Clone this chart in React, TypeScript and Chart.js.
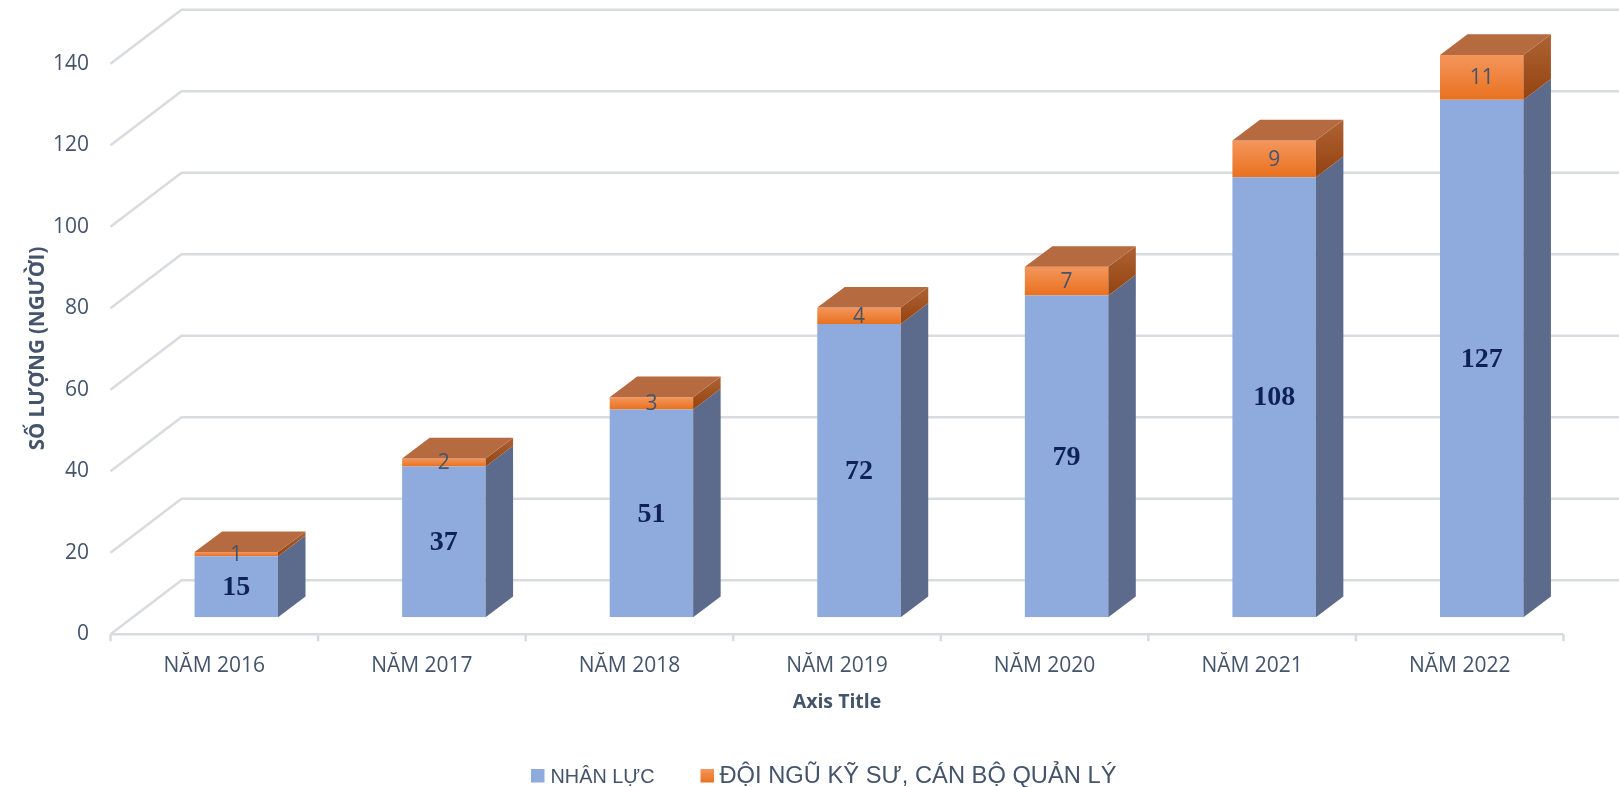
import React, { useEffect, useRef } from 'react';
import { Chart, registerables } from 'chart.js';

Chart.register(...registerables);

const categories = ['NĂM 2016', 'NĂM 2017', 'NĂM 2018', 'NĂM 2019', 'NĂM 2020', 'NĂM 2021', 'NĂM 2022'];
const nhanLuc = [15, 37, 51, 72, 79, 108, 127];
const doiNgu = [1, 2, 3, 4, 7, 9, 11];
const yTicks = [0, 20, 40, 60, 80, 100, 120, 140];
const seriesNames = ['NHÂN LỰC', 'ĐỘI NGŨ KỸ SƯ, CÁN BỘ QUẢN LÝ'];
const yTitle = 'SỐ LƯỢNG (NGƯỜI)';
const xTitle = 'Axis Title';

const W = 1619;
const H = 787;
const DEPTH = { dx: 27.5, dy: -20.7 };
const FRONT = { dx: -22, dy: 17 };
const BACK = { dx: 49, dy: -37 };
const TEXT = '#44546A';
const GRID = '#D9DBE0';

function orangeFront(c: any) {
  const chart = c.chart;
  const y = chart.scales && chart.scales.y;
  const i = c.dataIndex;
  if (!y || !chart.chartArea || i === undefined) return '#EE7E32';
  const top = y.getPixelForValue(nhanLuc[i] + doiNgu[i]);
  const bot = y.getPixelForValue(nhanLuc[i]);
  const g = chart.ctx.createLinearGradient(0, top, 0, bot);
  g.addColorStop(0, '#F4965C');
  g.addColorStop(1, '#E9711F');
  return g;
}

function fitText(ctx: CanvasRenderingContext2D, text: string, x: number, y: number, width: number) {
  const m = ctx.measureText(text).width;
  ctx.save();
  ctx.translate(x, y);
  ctx.scale(width / m, 1);
  ctx.fillText(text, 0, 0);
  ctx.restore();
}

const framePlugin = {
  id: 'frame3d',
  beforeDatasetsDraw(chart: any) {
    const { ctx, chartArea, scales } = chart;
    const x = scales.x;
    const y = scales.y;
    ctx.save();
    ctx.strokeStyle = GRID;
    ctx.lineWidth = 2.5;
    ctx.beginPath();
    for (const v of yTicks) {
      const py = y.getPixelForValue(v);
      ctx.moveTo(chartArea.left + FRONT.dx, py + FRONT.dy);
      ctx.lineTo(chartArea.left + BACK.dx, py + BACK.dy);
      ctx.lineTo(W, py + BACK.dy);
    }
    const fy = y.getPixelForValue(0) + FRONT.dy;
    ctx.moveTo(chartArea.left + FRONT.dx, fy);
    ctx.lineTo(chartArea.right + FRONT.dx, fy);
    const step = x.getPixelForValue(1) - x.getPixelForValue(0);
    for (let i = 0; i <= categories.length; i++) {
      const bx = x.getPixelForValue(0) - step / 2 + i * step + FRONT.dx;
      ctx.moveTo(bx, fy);
      ctx.lineTo(bx, fy + 7);
    }
    ctx.stroke();

    // tick labels
    ctx.fillStyle = TEXT;
    ctx.font = '21px "Open Sans"';
    ctx.textAlign = 'right';
    ctx.textBaseline = 'middle';
    for (const v of yTicks) {
      ctx.fillText(String(v), 89, y.getPixelForValue(v) + FRONT.dy);
    }
    // category labels
    ctx.textAlign = 'center';
    ctx.font = '21px "Open Sans"';
    categories.forEach((c, i) => {
      ctx.fillText(c, x.getPixelForValue(i) + FRONT.dx, fy + 32);
    });
    // axis titles
    ctx.font = 'bold 19.5px "Open Sans"';
    ctx.fillText(xTitle, 837, 702);
    ctx.save();
    ctx.translate(38, 348.5);
    ctx.rotate(-Math.PI / 2);
    ctx.font = 'bold 20.5px "Open Sans"';
    ctx.fillText(yTitle, 0, 0);
    ctx.restore();
    ctx.restore();
  },
  afterDatasetsDraw(chart: any) {
    const { ctx } = chart;
    const metas = [chart.getDatasetMeta(0), chart.getDatasetMeta(1)];
    ctx.save();
    for (let i = 0; i < categories.length; i++) {
      metas.forEach((meta, d) => {
        const el = meta.data[i];
        if (!el) return;
        const left = el.x - el.width / 2;
        const right = el.x + el.width / 2;
        const top = el.y;
        const base = el.base;
        let side: any = '#5C6B8C';
        if (d === 1) {
          const g = ctx.createLinearGradient(0, top + DEPTH.dy, 0, base);
          g.addColorStop(0, '#AE6234');
          g.addColorStop(1, '#93430F');
          side = g;
        }
        ctx.fillStyle = side;
        ctx.beginPath();
        ctx.moveTo(right, top);
        ctx.lineTo(right + DEPTH.dx, top + DEPTH.dy);
        ctx.lineTo(right + DEPTH.dx, base + DEPTH.dy);
        ctx.lineTo(right, base);
        ctx.closePath();
        ctx.fill();
        const isTop = d === 1 || doiNgu[i] === 0;
        if (isTop) {
          ctx.fillStyle = d === 1 ? '#B66A40' : '#7F97C5';
          ctx.beginPath();
          ctx.moveTo(left, top);
          ctx.lineTo(left + DEPTH.dx, top + DEPTH.dy);
          ctx.lineTo(right + DEPTH.dx, top + DEPTH.dy);
          ctx.lineTo(right, top);
          ctx.closePath();
          ctx.fill();
        }
      });
    }
    ctx.textAlign = 'center';
    ctx.textBaseline = 'middle';
    for (let i = 0; i < categories.length; i++) {
      const b = metas[0].data[i];
      ctx.fillStyle = '#0E2258';
      ctx.font = 'bold 28px "Liberation Serif"';
      ctx.fillText(String(nhanLuc[i]), b.x, (b.y + b.base) / 2 + 1);
      const o = metas[1].data[i];
      ctx.fillStyle = TEXT;
      ctx.font = '21px "Open Sans"';
      ctx.fillText(String(doiNgu[i]), o.x, (o.y + o.base) / 2 + 1);
    }
    ctx.restore();
  },
  afterDraw(chart: any) {
    const { ctx } = chart;
    ctx.save();
    ctx.fillStyle = '#8FAADC';
    ctx.fillRect(531, 769, 13.5, 13.5);
    const g = ctx.createLinearGradient(0, 769, 0, 782.5);
    g.addColorStop(0, '#F4965C');
    g.addColorStop(1, '#E9711F');
    ctx.fillStyle = g;
    ctx.fillRect(700.5, 769, 13.5, 13.5);
    ctx.fillStyle = TEXT;
    ctx.textAlign = 'left';
    ctx.textBaseline = 'alphabetic';
    ctx.font = '21px "Liberation Sans"';
    fitText(ctx, seriesNames[0], 550.5, 782.5, 104);
    ctx.font = '23px "Liberation Sans"';
    fitText(ctx, seriesNames[1], 719.5, 782.5, 397);
    ctx.restore();
  },
};

export default function App() {
  const ref = useRef<HTMLCanvasElement>(null);
  useEffect(() => {
    if (!ref.current) return;
    const chart = new Chart(ref.current, {
      type: 'bar',
      data: {
        labels: categories,
        datasets: [
          {
            label: seriesNames[0],
            data: nhanLuc,
            backgroundColor: '#8FAADC',
            categoryPercentage: 1,
            barPercentage: 0.402,
          },
          {
            label: seriesNames[1],
            data: doiNgu,
            backgroundColor: orangeFront as any,
            categoryPercentage: 1,
            barPercentage: 0.402,
          },
        ],
      },
      options: {
        responsive: false,
        animation: false,
        events: [],
        layout: { padding: { left: 132.5, right: 33.5, top: 46.8, bottom: 169.7 } },
        scales: {
          x: { stacked: true, display: false },
          y: { stacked: true, display: false, min: 0, max: 140 },
        },
        plugins: { legend: { display: false }, tooltip: { enabled: false }, title: { display: false } },
      },
      plugins: [framePlugin],
    });
    return () => chart.destroy();
  }, []);
  return (
    <div style={{ position: 'fixed', left: 0, top: 0, width: W, height: H, background: '#fff' }}>
      <canvas ref={ref} width={W} height={H} style={{ display: 'block' }} />
    </div>
  );
}
